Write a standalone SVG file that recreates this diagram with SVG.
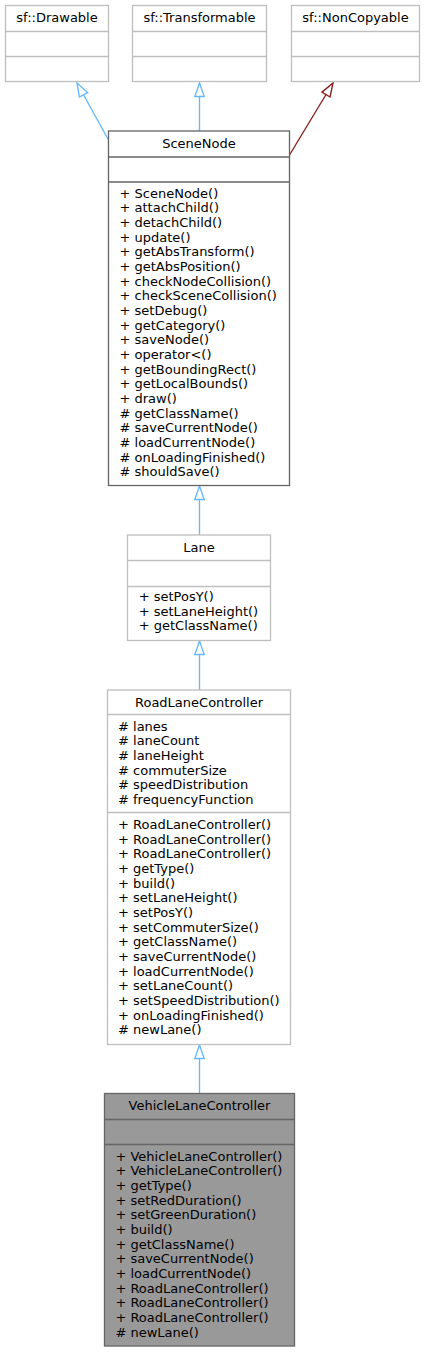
<svg xmlns="http://www.w3.org/2000/svg" width="425" height="1352" viewBox="0 0 425 1352">
<style>
text{font-family:"DejaVu Sans",sans-serif;font-size:13px;fill:#000}
.c{text-anchor:middle}
.box{fill:#fff;stroke:#bfbfbf;stroke-width:1.33}
.dark{fill:#fff;stroke:#666666;stroke-width:1.33}
.focus{fill:#999999;stroke:#666666;stroke-width:1.33}
.e{fill:none;stroke-width:1.33}
.blue{stroke:#63b8ff}
.red{stroke:#8b1a1a}
</style>
<defs>
<marker id="hb" markerUnits="userSpaceOnUse" markerWidth="16" markerHeight="12" refX="14" refY="5.2" orient="auto" overflow="visible">
<path d="M0.5,0.5 L14,5.2 L0.5,9.9 Z" fill="#fff" stroke="#63b8ff" stroke-width="1.33"/>
</marker>
<marker id="hr" markerUnits="userSpaceOnUse" markerWidth="16" markerHeight="12" refX="14" refY="5.2" orient="auto" overflow="visible">
<path d="M0.5,0.5 L14,5.2 L0.5,9.9 Z" fill="#fff" stroke="#8b1a1a" stroke-width="1.33"/>
</marker>
</defs>

<g id="connectors">
<path class="e blue" d="M108.5,140 L77,83" marker-end="url(#hb)"/>
<path class="e blue" d="M199.5,131 L199.5,83" marker-end="url(#hb)"/>
<path class="e red" d="M289.5,155 L333,83" marker-end="url(#hr)"/>
<path class="e blue" d="M199.5,535 L199.5,486" marker-end="url(#hb)"/>
<path class="e blue" d="M199.5,690 L199.5,641" marker-end="url(#hb)"/>
<path class="e blue" d="M199.5,1093.5 L199.5,1045" marker-end="url(#hb)"/>
</g>

<g id="Drawable">
<rect class="box" x="5.5" y="5.5" width="103" height="76"/>
<path class="box" d="M5.5,31.5 H108.5 M5.5,56.5 H108.5"/>
<text class="c" x="57" y="22">sf::Drawable</text>
</g>

<g id="Transformable">
<rect class="box" x="132.5" y="5.5" width="134" height="76"/>
<path class="box" d="M132.5,31.5 H266.5 M132.5,56.5 H266.5"/>
<text class="c" x="199.5" y="22">sf::Transformable</text>
</g>

<g id="NonCopyable">
<rect class="box" x="291.5" y="5.5" width="128" height="76"/>
<path class="box" d="M291.5,31.5 H419.5 M291.5,56.5 H419.5"/>
<text class="c" x="355.5" y="22">sf::NonCopyable</text>
</g>

<g id="SceneNode">
<rect class="dark" x="108.5" y="131" width="181" height="354.5"/>
<path class="dark" d="M108.5,157 H289.5 M108.5,182 H289.5"/>
<text class="c" x="199" y="147.5">SceneNode</text>
<text x="119.5" y="197.7">+ SceneNode()</text>
<text x="119.5" y="212.4">+ attachChild()</text>
<text x="119.5" y="227">+ detachChild()</text>
<text x="119.5" y="241.7">+ update()</text>
<text x="119.5" y="256.4">+ getAbsTransform()</text>
<text x="119.5" y="271">+ getAbsPosition()</text>
<text x="119.5" y="285.7">+ checkNodeCollision()</text>
<text x="119.5" y="300.4">+ checkSceneCollision()</text>
<text x="119.5" y="315">+ setDebug()</text>
<text x="119.5" y="329.7">+ getCategory()</text>
<text x="119.5" y="344.4">+ saveNode()</text>
<text x="119.5" y="359">+ operator&lt;()</text>
<text x="119.5" y="373.7">+ getBoundingRect()</text>
<text x="119.5" y="388.4">+ getLocalBounds()</text>
<text x="119.5" y="403">+ draw()</text>
<text x="119.5" y="417.7"># getClassName()</text>
<text x="119.5" y="432.4"># saveCurrentNode()</text>
<text x="119.5" y="447"># loadCurrentNode()</text>
<text x="119.5" y="461.7"># onLoadingFinished()</text>
<text x="119.5" y="476.4"># shouldSave()</text>
</g>

<g id="Lane">
<rect class="box" x="127.5" y="535" width="143" height="105.5"/>
<path class="box" d="M127.5,560.5 H270.5 M127.5,586.5 H270.5"/>
<text class="c" x="199" y="551.5">Lane</text>
<text x="138.7" y="601">+ setPosY()</text>
<text x="138.7" y="615.7">+ setLaneHeight()</text>
<text x="138.7" y="630.3">+ getClassName()</text>
</g>

<g id="RoadLaneController">
<rect class="box" x="107.5" y="690" width="183" height="354.5"/>
<path class="box" d="M107.5,714.5 H290.5 M107.5,812.5 H290.5"/>
<text class="c" x="199" y="706.5">RoadLaneController</text>
<text x="118" y="730.7"># lanes</text>
<text x="118" y="745.4"># laneCount</text>
<text x="118" y="760"># laneHeight</text>
<text x="118" y="774.7"># commuterSize</text>
<text x="118" y="789.4"># speedDistribution</text>
<text x="118" y="804"># frequencyFunction</text>
<text x="118" y="829">+ RoadLaneController()</text>
<text x="118" y="843.7">+ RoadLaneController()</text>
<text x="118" y="858.4">+ RoadLaneController()</text>
<text x="118" y="873">+ getType()</text>
<text x="118" y="887.7">+ build()</text>
<text x="118" y="902.4">+ setLaneHeight()</text>
<text x="118" y="917">+ setPosY()</text>
<text x="118" y="931.7">+ setCommuterSize()</text>
<text x="118" y="946.4">+ getClassName()</text>
<text x="118" y="961">+ saveCurrentNode()</text>
<text x="118" y="975.7">+ loadCurrentNode()</text>
<text x="118" y="990.4">+ setLaneCount()</text>
<text x="118" y="1005">+ setSpeedDistribution()</text>
<text x="118" y="1019.7">+ onLoadingFinished()</text>
<text x="118" y="1034.4"># newLane()</text>
</g>

<g id="VehicleLaneController">
<rect class="focus" x="104.5" y="1093.5" width="190" height="252.5"/>
<path class="focus" d="M104.5,1119.5 H294.5 M104.5,1144.5 H294.5"/>
<text class="c" x="199.5" y="1110">VehicleLaneController</text>
<text x="115.4" y="1160.7">+ VehicleLaneController()</text>
<text x="115.4" y="1175.4">+ VehicleLaneController()</text>
<text x="115.4" y="1190">+ getType()</text>
<text x="115.4" y="1204.7">+ setRedDuration()</text>
<text x="115.4" y="1219.4">+ setGreenDuration()</text>
<text x="115.4" y="1234">+ build()</text>
<text x="115.4" y="1248.7">+ getClassName()</text>
<text x="115.4" y="1263.4">+ saveCurrentNode()</text>
<text x="115.4" y="1278">+ loadCurrentNode()</text>
<text x="115.4" y="1292.7">+ RoadLaneController()</text>
<text x="115.4" y="1307.4">+ RoadLaneController()</text>
<text x="115.4" y="1322">+ RoadLaneController()</text>
<text x="115.4" y="1336.7"># newLane()</text>
</g>
</svg>
